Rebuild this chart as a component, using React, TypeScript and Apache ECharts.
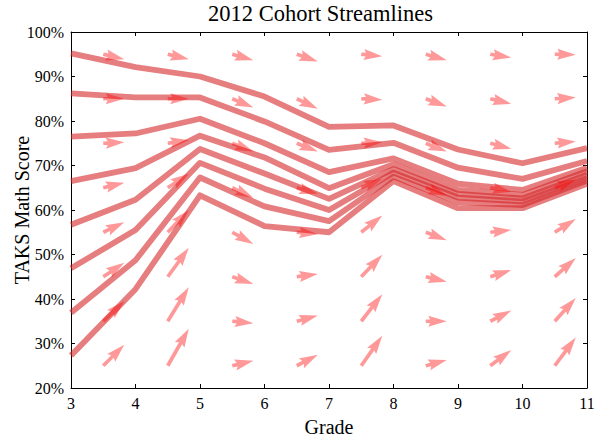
import React, { useEffect, useRef } from "react";
import * as echarts from "echarts";

// Grades on the horizontal axis
const grades = [3, 4, 5, 6, 7, 8, 9, 10, 11];

// Streamlines: TAKS math score (%) by grade, one array per starting level
const streamline1 = [95.2, 92.1, 90.0, 85.5, 78.7, 79.0, 73.6, 70.5, 73.9];
const streamline2 = [86.2, 85.3, 85.3, 79.9, 73.5, 75.1, 69.5, 67.0, 71.0];
const streamline3 = [76.5, 77.2, 80.5, 75.0, 68.5, 71.6, 65.9, 64.5, 69.5];
const streamline4 = [66.5, 69.4, 76.7, 71.8, 64.9, 70.3, 64.5, 63.4, 68.7];
const streamline5 = [56.7, 62.3, 73.7, 68.2, 62.5, 69.2, 63.6, 62.6, 67.9];
const streamline6 = [46.9, 55.5, 70.6, 64.8, 60.0, 68.4, 62.8, 61.9, 67.2];
const streamline7 = [36.9, 48.7, 67.3, 60.8, 57.5, 67.5, 61.8, 61.1, 66.6];
const streamline8 = [27.3, 42.2, 63.3, 56.4, 55.0, 66.5, 60.4, 60.4, 65.9];
const streamlines = [
  streamline1, streamline2, streamline3, streamline4,
  streamline5, streamline6, streamline7, streamline8,
];

// Vector field: anchors (grade, score) and score change per grade
const arrowGrades = [3.5, 4.5, 5.5, 6.5, 7.5, 8.5, 9.5, 10.5];
const arrowScores = [95, 85, 75, 65, 55, 45, 35, 25];
// one column per anchor grade, values listed from the 95% row down to 25%
const slopes35 = [-3.5, 0, 0.7, 3.5, 6.9, 9.7, 13.8, 14.5];
const slopes45 = [-3.5, 0, 2.1, 9.7, 15.2, 20.0, 23.5, 25.5];
const slopes55 = [-4.1, -6.0, -5.7, -6.9, -8.1, -5.0, -1.4, 3.5];
const slopes65 = [-5.0, -6.9, -5.7, -4.1, -1.4, 1.9, 3.9, 7.6];
const slopes75 = [-1.4, -0.7, 0.7, 6.2, 11.5, 15.2, 18.6, 20.7];
const slopes85 = [-4.1, -5.3, -5.7, -5.3, -5.5, -3.5, 0, 3.9];
const slopes95 = [-2.3, -3.5, -3.9, -2.8, 1.6, 4.6, 7.4, 10.8];
const slopes105 = [-0.3, 0.9, 1.2, 5.5, 9.2, 12.9, 16.1, 19.5];
const arrowSlopes = [
  slopes35, slopes45, slopes55, slopes65,
  slopes75, slopes85, slopes95, slopes105,
];

const yTicks = [20, 30, 40, 50, 60, 70, 80, 90, 100];

const SERIF = "'Liberation Serif', 'DejaVu Serif', serif";
const LINE_COLOR = "rgba(214, 39, 40, 0.6)";
const ARROW_COLOR = "rgba(255, 0, 0, 0.4)";
const ARROW_SCALE = 0.326; // fraction of one grade step drawn per arrow
const SHAFT = 3.7;

function arrowRender(params: any, api: any) {
  const g = api.value(0);
  const s = api.value(1);
  const d = api.value(2);
  const p0 = api.coord([g, s]);
  const p1 = api.coord([g + 1, s + d]);
  const vx = (p1[0] - p0[0]) * ARROW_SCALE;
  const vy = (p1[1] - p0[1]) * ARROW_SCALE;
  const L = Math.hypot(vx, vy);
  const ux = vx / L;
  const uy = vy / L;
  const nx = -uy;
  const ny = ux;
  const hl = SHAFT * 5;
  const ha = SHAFT * 4.5;
  const hw = SHAFT * 3;
  const local = [
    [0, -SHAFT / 2],
    [L - ha, -SHAFT / 2],
    [L - hl, -hw / 2],
    [L, 0],
    [L - hl, hw / 2],
    [L - ha, SHAFT / 2],
    [0, SHAFT / 2],
  ];
  const points = local.map(([a, b]) => [
    p0[0] + a * ux + b * nx,
    p0[1] + a * uy + b * ny,
  ]);
  return {
    type: "polygon",
    shape: { points },
    style: { fill: ARROW_COLOR },
  };
}

export default function App() {
  const ref = useRef<HTMLDivElement>(null);

  useEffect(() => {
    if (!ref.current) return;
    const chart = echarts.init(ref.current, null, { renderer: "svg" });

    const arrowData: number[][] = [];
    arrowGrades.forEach((g, ci) => {
      arrowScores.forEach((s, ri) => {
        arrowData.push([g, s, arrowSlopes[ci][ri]]);
      });
    });

    const axisLine = { show: true, lineStyle: { color: "#000", width: 1 } };
    const tickIn = { show: true, inside: true, length: 4, lineStyle: { color: "#000" } };

    chart.setOption({
      animation: false,
      backgroundColor: "#fff",
      graphic: [
        {
          type: "text",
          left: 322 - 114,
          top: 2,
          style: {
            text: "2012 Cohort Streamlines",
            fontFamily: SERIF,
            fontSize: 22.5,
            fill: "#000",
          },
        },
        {
          type: "text",
          x: 22,
          y: 210,
          rotation: Math.PI / 2,
          style: {
            text: "TAKS Math Score",
            fontFamily: SERIF,
            fontSize: 20,
            fill: "#000",
            align: "center",
            verticalAlign: "middle",
          },
        },
      ],
      grid: {
        left: 71,
        right: 21,
        top: 32,
        bottom: 50,
        containLabel: false,
        outerBoundsMode: "none",
      },
      xAxis: [
        {
          type: "value",
          min: 3,
          max: 11,
          interval: 1,
          position: "bottom",
          name: "Grade",
          nameLocation: "middle",
          nameGap: 29,
          nameMoveOverlap: false,
          nameTextStyle: { fontFamily: SERIF, fontSize: 20, color: "#000" },
          axisLine,
          axisTick: tickIn,
          axisLabel: { fontFamily: SERIF, fontSize: 16, color: "#000", margin: 7 },
          splitLine: { show: false },
        },
        {
          type: "value",
          min: 3,
          max: 11,
          interval: 1,
          position: "top",
          axisLine,
          axisTick: tickIn,
          axisLabel: { show: false },
          splitLine: { show: false },
        },
      ],
      yAxis: [
        {
          type: "value",
          min: 20,
          max: 100,
          interval: 10,
          position: "left",
          axisLine,
          axisTick: tickIn,
          axisLabel: {
            fontFamily: SERIF,
            fontSize: 16,
            color: "#000",
            margin: 7,
            formatter: (v: number) => (yTicks.includes(v) ? `${v}%` : ""),
          },
          splitLine: { show: false },
        },
        {
          type: "value",
          min: 20,
          max: 100,
          interval: 10,
          position: "right",
          axisLine,
          axisTick: tickIn,
          axisLabel: { show: false },
          splitLine: { show: false },
        },
      ],
      series: [
        ...streamlines.map((vals, i) => ({
          name: `Streamline ${i + 1}`,
          type: "line",
          data: grades.map((g, j) => [g, vals[j]]),
          symbol: "none",
          lineStyle: { color: LINE_COLOR, width: 5.8, join: "round", cap: "butt" },
          z: 2,
        })),
        {
          name: "Field",
          type: "custom",
          coordinateSystem: "cartesian2d",
          renderItem: arrowRender,
          encode: { x: 0, y: 1 },
          data: arrowData,
          clip: false,
          z: 3,
        },
      ],
    });

    return () => chart.dispose();
  }, []);

  return (
    <div
      ref={ref}
      style={{ position: "fixed", left: 0, top: 0, width: 608, height: 438 }}
    />
  );
}
